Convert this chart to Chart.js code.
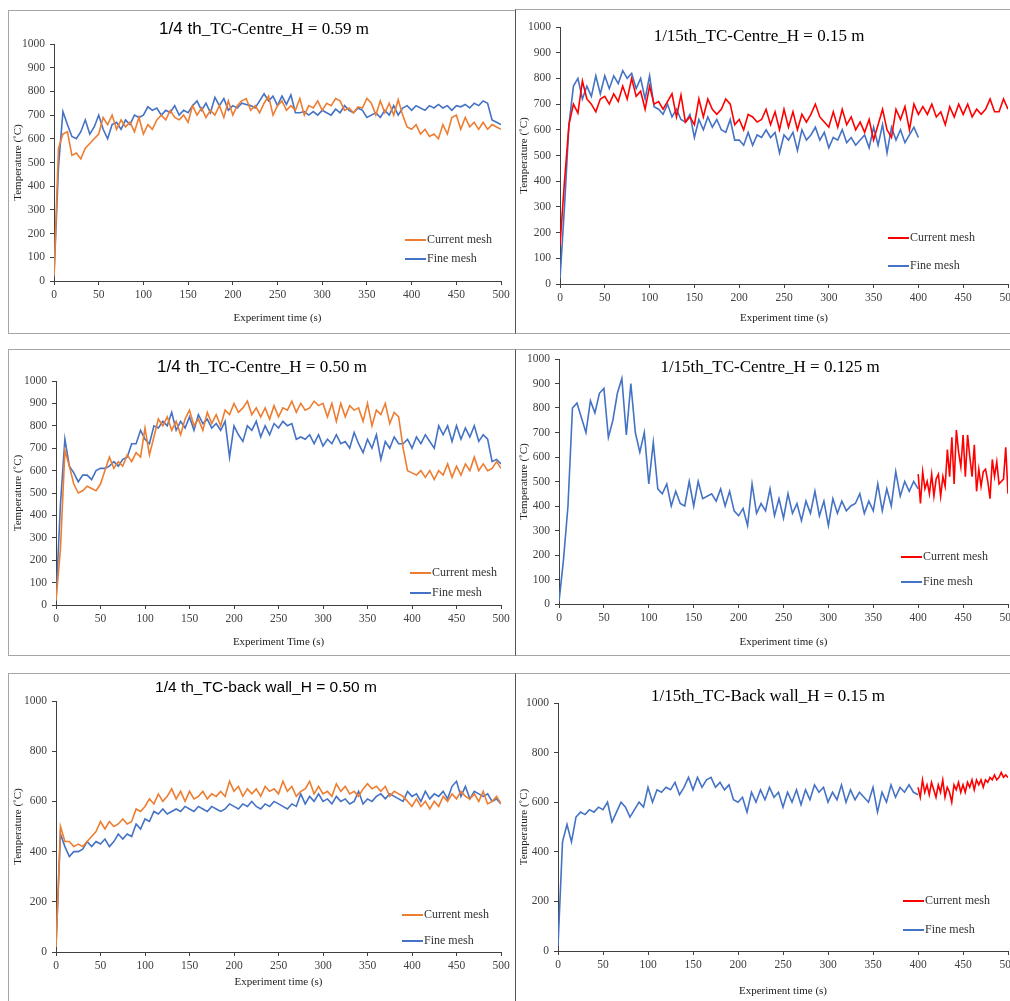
<!DOCTYPE html>
<html>
<head>
<meta charset="utf-8">
<script src="https://cdn.jsdelivr.net/npm/chart.js@4.4.1/dist/chart.umd.min.js"></script>
<style>
	body { margin: 0; width: 1010px; height: 1001px; overflow: hidden; background: #fff; position: relative; font-family: "Liberation Serif", serif; }
	.frame { position: absolute; border: 1px solid #a6a6a6; box-sizing: border-box; }
	.frame.right { border-left: 1px solid #555; }
	canvas { position: absolute; }
	.title { position: absolute; transform: translate(-50%, -50%); white-space: nowrap; font-size: 17px; color: #000; }
	.sans { font-family: "Liberation Sans", Arial, sans-serif; }
	.title.small { font-size: 15.5px; }
	.legend { position: absolute; font-size: 12px; color: #333; white-space: nowrap; line-height: 14px; }
	.legend .line { display: inline-block; width: 21px; height: 2px; vertical-align: middle; margin-right: 1px; }
</style>
</head>
<body>
<div id="page"></div>
<script>
// time axis (s)
const time5 = [
	0, 5, 10, 15, 20, 25, 30, 35, 40, 45,
	50, 55, 60, 65, 70, 75, 80, 85, 90, 95,
	100, 105, 110, 115, 120, 125, 130, 135, 140, 145,
	150, 155, 160, 165, 170, 175, 180, 185, 190, 195,
	200, 205, 210, 215, 220, 225, 230, 235, 240, 245,
	250, 255, 260, 265, 270, 275, 280, 285, 290, 295,
	300, 305, 310, 315, 320, 325, 330, 335, 340, 345,
	350, 355, 360, 365, 370, 375, 380, 385, 390, 395,
	400, 405, 410, 415, 420, 425, 430, 435, 440, 445,
	450, 455, 460, 465, 470, 475, 480, 485, 490, 495,
	500];
const time400 = [
	400, 402.5, 405, 407.5, 410, 412.5, 415, 417.5, 420, 422.5,
	425, 427.5, 430, 432.5, 435, 437.5, 440, 442.5, 445, 447.5,
	450, 452.5, 455, 457.5, 460, 462.5, 465, 467.5, 470, 472.5,
	475, 477.5, 480, 482.5, 485, 487.5, 490, 492.5, 495, 497.5,
	500];

const xTicks = [0, 50, 100, 150, 200, 250, 300, 350, 400, 450, 500];
const yTicks100 = [0, 100, 200, 300, 400, 500, 600, 700, 800, 900, 1000];
const yTicks200 = [0, 200, 400, 600, 800, 1000];

// 1/4 th_TC-Centre_H = 0.59 m
const tlCurrent = [
	20, 560, 620, 630, 530, 540, 515, 560, 580, 600,
	620, 690, 660, 700, 640, 680, 650, 670, 630, 690,
	620, 660, 640, 680, 700, 680, 720, 690, 680, 700,
	670, 740, 700, 730, 690, 720, 700, 740, 690, 760,
	700, 740, 760, 770, 720, 740, 710, 750, 780, 700,
	740, 760, 720, 740, 720, 770, 700, 740, 730, 760,
	720, 750, 740, 770, 760, 720, 730, 710, 735, 730,
	770, 750, 700, 760, 710, 750, 700, 765, 700, 650,
	640, 660, 620, 640, 610, 620, 600, 660, 620, 690,
	700, 640, 690, 650, 670, 640, 670, 640, 660, 650,
	640];
const tlFine = [
	20, 480, 715, 660, 610, 600, 630, 680, 620, 650,
	700, 640, 600, 660, 670, 640, 680, 660, 700, 690,
	700, 735, 720, 730, 700, 720, 710, 740, 700, 720,
	710, 740, 760, 720, 750, 710, 775, 740, 770, 720,
	740, 730, 750, 745, 740, 730, 760, 790, 760, 780,
	740, 780, 745, 785, 710, 710, 715, 700, 715, 700,
	720, 710, 700, 725, 710, 740, 720, 710, 730, 720,
	690, 700, 710, 690, 720, 700, 740, 700, 730, 740,
	720, 740, 730, 720, 740, 730, 745, 730, 740, 720,
	740, 735, 745, 730, 750, 740, 760, 750, 680, 670,
	660];

// 1/15th_TC-Centre_H = 0.15 m
const trCurrent = [
	150, 400, 620, 700, 665, 790, 720, 700, 670, 720,
	730, 700, 740, 710, 770, 720, 800, 730, 750, 680,
	770, 700, 710, 680, 710, 740, 650, 735, 630, 650,
	620, 720, 650, 720, 680, 660, 680, 720, 700, 620,
	640, 600, 660, 650, 630, 640, 680, 620, 670, 600,
	680, 610, 670, 600, 660, 630, 660, 700, 650, 630,
	610, 670, 610, 680, 620, 650, 600, 630, 590, 640,
	560, 620, 680, 600, 570, 680, 640, 690, 600, 700,
	660, 690, 660, 700, 650, 670, 620, 690, 650, 700,
	660, 700, 650, 680, 660, 680, 720, 670, 670, 720,
	680];
const trFine = [
	20, 300, 620, 770, 800, 720, 770, 730, 810, 740,
	810, 760, 810, 780, 830, 800, 820, 760, 800, 720,
	810, 690, 680, 660, 700, 650, 680, 640, 630, 660,
	570, 640, 600, 650, 610, 640, 600, 590, 640, 560,
	560, 540, 590, 540, 580, 570, 600, 570, 590, 510,
	580, 560, 590, 520, 600, 560, 580, 610, 560, 590,
	530, 570, 560, 600, 550, 570, 540, 560, 580, 530,
	610, 540, 620, 510, 610, 560, 600, 550, 580, 610,
	570];

// 1/4 th_TC-Centre_H = 0.50 m
const mlCurrent = [
	20, 250, 690, 620, 540, 500, 510, 530, 520, 510,
	540, 600, 660, 610, 640, 620, 670, 640, 680, 660,
	790, 670, 750, 830, 800, 840, 780, 820, 760, 830,
	870, 800, 830, 780, 860, 810, 850, 800, 870, 850,
	900, 860, 880, 910, 850, 880, 840, 880, 830, 890,
	840, 880, 870, 910, 860, 900, 870, 880, 910, 890,
	900, 840, 900, 820, 900, 840, 890, 870, 880, 820,
	900, 800, 870, 850, 900, 810, 860, 840, 700, 600,
	590, 580, 600, 570, 600, 560, 600, 580, 630, 570,
	620, 580, 630, 600, 660, 600, 630, 600, 610, 640,
	610];
const mlFine = [
	20, 450, 740, 620, 590, 550, 580, 580, 560, 600,
	610, 610, 620, 640, 620, 650, 660, 720, 720, 780,
	740, 720, 800, 790, 820, 800, 860, 780, 820, 790,
	840, 780, 850, 810, 830, 790, 810, 780, 820, 660,
	800, 760, 730, 800, 780, 820, 750, 800, 760, 810,
	790, 820, 800, 810, 740, 750, 740, 760, 720, 760,
	710, 740, 720, 760, 720, 730, 700, 770, 720, 680,
	740, 700, 760, 650, 730, 700, 750, 720, 720, 740,
	700, 750, 720, 760, 730, 700, 800, 760, 800, 730,
	800, 740, 790, 750, 800, 730, 760, 740, 640, 650,
	630];

// 1/15th_TC-Centre_H = 0.125 m
const mrFine = [
	10, 180, 400, 800, 820, 760, 700, 830, 780, 860,
	880, 680, 750, 860, 920, 690, 900, 700, 620, 700,
	490, 660, 470, 450, 490, 400, 460, 410, 400, 500,
	400, 500, 430, 440, 450, 420, 470, 400, 460, 380,
	360, 390, 320, 490, 370, 410, 380, 470, 360, 430,
	350, 450, 370, 410, 340, 420, 370, 460, 360, 420,
	320, 430, 370, 420, 380, 400, 410, 450, 370, 420,
	380, 490, 380, 470, 400, 540, 440, 500, 460, 500,
	470];
const mrCurrent = [
	530, 410, 540, 470, 500, 450, 530, 440, 510, 530,
	440, 520, 480, 630, 520, 680, 490, 710, 620, 560,
	690, 520, 690, 600, 520, 650, 460, 550, 480, 540,
	550, 500, 430, 590, 520, 580, 490, 500, 510, 640,
	450];

// 1/4 th_TC-back wall_H = 0.50 m
const blCurrent = [
	20, 500, 440, 440, 420, 430, 420, 440, 460, 480,
	520, 490, 520, 500, 510, 530, 510, 520, 570, 560,
	580, 610, 590, 630, 600, 620, 650, 610, 640, 600,
	640, 610, 620, 640, 610, 630, 620, 640, 620, 680,
	640, 660, 620, 650, 630, 650, 620, 660, 640, 650,
	630, 680, 640, 660, 620, 640, 650, 680, 630, 660,
	630, 640, 620, 670, 640, 660, 630, 640, 620, 650,
	670, 650, 660, 640, 660, 620, 640, 630, 620, 600,
	580, 610, 580, 600, 570, 600, 580, 620, 600, 630,
	610, 640, 620, 610, 630, 600, 640, 590, 600, 620,
	590];
const blFine = [
	20, 470, 420, 380, 400, 400, 410, 440, 420, 440,
	430, 450, 420, 440, 470, 450, 470, 460, 510, 490,
	530, 520, 560, 550, 570, 550, 560, 570, 560, 580,
	570, 560, 580, 570, 560, 580, 570, 560, 570, 590,
	580, 570, 590, 580, 600, 580, 570, 590, 580, 600,
	590, 580, 570, 590, 580, 630, 590, 620, 600, 630,
	600, 610, 590, 620, 600, 610, 590, 600, 640, 590,
	610, 600, 620, 630, 610, 630, 620, 610, 600, 640,
	620, 630, 600, 640, 610, 630, 620, 640, 610, 660,
	680, 620, 660, 610, 640, 630, 620, 630, 600, 610,
	590];

// 1/15th_TC-Back wall_H = 0.15 m
const brFine = [
	20, 440, 510, 440, 540, 560, 550, 570, 560, 580,
	570, 600, 520, 560, 600, 580, 540, 570, 600, 580,
	660, 600, 650, 640, 660, 650, 680, 630, 660, 700,
	650, 700, 660, 690, 700, 660, 680, 650, 670, 610,
	600, 620, 560, 640, 600, 650, 610, 660, 620, 640,
	580, 640, 600, 650, 590, 650, 610, 670, 640, 660,
	600, 640, 610, 670, 600, 650, 610, 640, 620, 600,
	660, 560, 640, 600, 670, 620, 660, 640, 670, 640,
	630];
const brCurrent = [
	660, 620, 690, 640, 670, 630, 680, 650, 620, 670,
	640, 690, 620, 660, 640, 600, 670, 650, 680, 640,
	670, 640, 680, 660, 690, 650, 690, 670, 690, 660,
	690, 680, 700, 690, 710, 690, 700, 720, 700, 710,
	700];

const ORANGE = '#ED7D31';
const BLUE = '#4472C4';
const RED = '#FF0000';

// position of every panel on the page (canvas box and plot box in page px)
const panels = [
	{
		frame: [8, 10, 508, 324], right: false,
		canvas: [9, 11, 506, 322], plot: [54, 44, 501, 281],
		title: '<span class="sans">1/4 th</span>_TC-Centre_H = 0.59 m', titlePos: [264, 29],
		yTicks: yTicks100, yTitleX: 18, xTitleY: 318, xTitle: 'Experiment time (s)',
		series: [['Current mesh', time5, tlCurrent, ORANGE], ['Fine mesh', time5, tlFine, BLUE]],
		legend: [405, 239, 258]
	},
	{
		frame: [515, 9, 510, 325], right: true,
		canvas: [517, 10, 493, 323], plot: [560, 27, 1008, 284],
		title: '1/15th_TC-Centre_H = 0.15 m', titlePos: [759, 36],
		yTicks: yTicks100, yTitleX: 524, xTitleY: 318, xTitle: 'Experiment time (s)',
		series: [['Current mesh', time5, trCurrent, RED], ['Fine mesh', time5.slice(0, 81), trFine, BLUE]],
		legend: [888, 237, 265]
	},
	{
		frame: [8, 349, 508, 307], right: false,
		canvas: [9, 350, 506, 305], plot: [56, 381, 501, 605],
		title: '<span class="sans">1/4 th</span>_TC-Centre_H = 0.50 m', titlePos: [262, 367],
		yTicks: yTicks100, yTitleX: 18, xTitleY: 642, xTitle: 'Experiment Time (s)',
		series: [['Current mesh', time5, mlCurrent, ORANGE], ['Fine mesh', time5, mlFine, BLUE]],
		legend: [410, 572, 592]
	},
	{
		frame: [515, 349, 510, 307], right: true,
		canvas: [517, 350, 493, 305], plot: [559, 359, 1008, 604],
		title: '1/15th_TC-Centre_H = 0.125 m', titlePos: [770, 367],
		yTicks: yTicks100, yTitleX: 524, xTitleY: 642, xTitle: 'Experiment time (s)',
		series: [['Current mesh', time400, mrCurrent, RED], ['Fine mesh', time5.slice(0, 81), mrFine, BLUE]],
		legend: [901, 556, 581]
	},
	{
		frame: [8, 673, 508, 400], right: false,
		canvas: [9, 674, 506, 327], plot: [56, 701, 501, 952],
		title: '<span class="sans">1/4 th_TC-back wall_H = 0.50 m</span>', titlePos: [266, 687], small: true,
		yTicks: yTicks200, yTitleX: 18, xTitleY: 982, xTitle: 'Experiment time (s)',
		series: [['Current mesh', time5, blCurrent, ORANGE], ['Fine mesh', time5, blFine, BLUE]],
		legend: [402, 914, 940]
	},
	{
		frame: [515, 673, 510, 400], right: true,
		canvas: [517, 674, 493, 327], plot: [558, 703, 1008, 951],
		title: '1/15th_TC-Back wall_H = 0.15 m', titlePos: [768, 696],
		yTicks: yTicks200, yTitleX: 524, xTitleY: 991, xTitle: 'Experiment time (s)',
		series: [['Current mesh', time400, brCurrent, RED], ['Fine mesh', time5.slice(0, 81), brFine, BLUE]],
		legend: [903, 900, 929]
	}
];

const TICK_FONT = { family: 'Liberation Serif', size: 11.5 };
const AXIS_FONT = { family: 'Liberation Serif', size: 11 };
const AXIS_COLOR = '#404040';

document.addEventListener('DOMContentLoaded', function()
{
	const page = document.getElementById('page');
	panels.forEach(p => drawPanel(page, p));
});

function toPoints(times, values)
{
	return values.map((v, i) => ({ x: times[i], y: v }));
}

function drawPanel(page, p)
{
	const frame = document.createElement('div');
	frame.className = p.right ? 'frame right' : 'frame';
	frame.style.left = p.frame[0] + 'px';
	frame.style.top = p.frame[1] + 'px';
	frame.style.width = p.frame[2] + 'px';
	frame.style.height = p.frame[3] + 'px';
	page.appendChild(frame);

	const canvas = document.createElement('canvas');
	canvas.width = p.canvas[2];
	canvas.height = p.canvas[3];
	canvas.style.left = p.canvas[0] + 'px';
	canvas.style.top = p.canvas[1] + 'px';
	page.appendChild(canvas);

	const title = document.createElement('div');
	title.className = p.small ? 'title small' : 'title';
	title.innerHTML = p.title;
	title.style.left = p.titlePos[0] + 'px';
	title.style.top = p.titlePos[1] + 'px';
	page.appendChild(title);

	// legend sits inside the plot, like in the original
	p.series.forEach((s, i) => {
		const item = document.createElement('div');
		item.className = 'legend';
		item.style.left = p.legend[0] + 'px';
		item.style.top = (p.legend[i + 1] - 7) + 'px';
		item.innerHTML = '<span class="line" style="background:' + s[3] + '"></span>' + s[0];
		page.appendChild(item);
	});

	const [cl, ct, cw, ch] = p.canvas;
	const [x0, y0, x1, y1] = p.plot;
	const yw = x0 - cl;
	const xh = ct + ch - y1;
	const halfLine = AXIS_FONT.size * 1.2 / 2;
	const yTitlePad = Math.max(0, p.yTitleX - cl - halfLine);
	const xTitlePad = Math.max(0, ct + ch - p.xTitleY - halfLine);
	const yMax = p.yTicks[p.yTicks.length - 1];

	const datasets = p.series.map(s => ({
		label: s[0],
		data: toPoints(s[1], s[2]),
		borderColor: s[3],
		backgroundColor: s[3],
		borderWidth: 1.6,
		pointRadius: 0,
		tension: 0,
		fill: false
	}));

	new Chart(canvas.getContext('2d'), {
		type: 'line',
		data: { datasets: datasets },
		options: {
			animation: false,
			responsive: false,
			events: [],
			layout: {
				autoPadding: false,
				padding: { left: 0, top: y0 - ct, right: cl + cw - x1, bottom: 0 }
			},
			plugins: {
				legend: { display: false },
				title: { display: false },
				tooltip: { enabled: false }
			},
			scales: {
				x: {
					type: 'linear',
					min: xTicks[0],
					max: xTicks[xTicks.length - 1],
					afterBuildTicks: scale => { scale.ticks = xTicks.map(v => ({ value: v })); },
					ticks: { color: AXIS_COLOR, font: TICK_FONT, padding: 3, maxRotation: 0, autoSkip: false, callback: v => String(v) },
					grid: { drawOnChartArea: false, drawTicks: true, tickLength: 4, color: AXIS_COLOR },
					border: { display: true, color: AXIS_COLOR, width: 1 },
					title: { display: true, text: p.xTitle, color: '#222', font: AXIS_FONT, padding: { top: 0, bottom: xTitlePad } },
					afterFit: scale => { scale.height = xh; scale.paddingLeft = 0; scale.paddingRight = 0; }
				},
				y: {
					type: 'linear',
					min: 0,
					max: yMax,
					afterBuildTicks: scale => { scale.ticks = p.yTicks.map(v => ({ value: v })); },
					ticks: { color: AXIS_COLOR, font: TICK_FONT, padding: 5, autoSkip: false, callback: v => String(v) },
					grid: { drawOnChartArea: false, drawTicks: true, tickLength: 4, color: AXIS_COLOR },
					border: { display: true, color: AXIS_COLOR, width: 1 },
					title: { display: true, text: 'Temperature (˚C)', color: '#222', font: AXIS_FONT, padding: { top: yTitlePad, bottom: 0 } },
					afterFit: scale => { scale.width = yw; scale.paddingTop = 0; scale.paddingBottom = 0; }
				}
			}
		}
	});
}
</script>
</body>
</html>
